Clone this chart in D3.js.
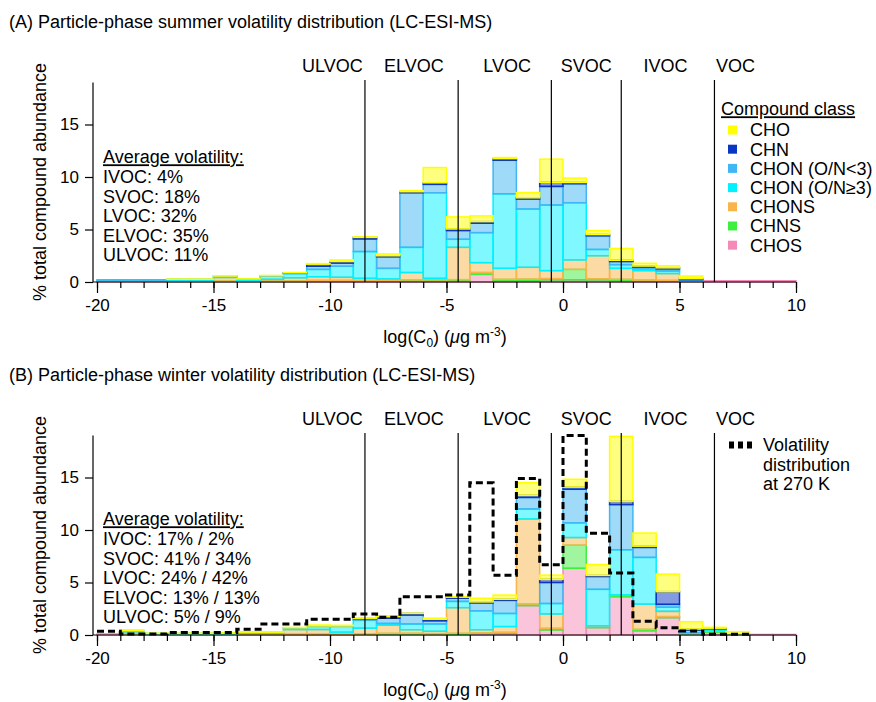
<!DOCTYPE html>
<html>
<head>
<meta charset="utf-8">
<script src="https://cdn.jsdelivr.net/npm/d3@7"></script>
<style>
  body { margin: 0; background: #fff; }
  svg { display: block; font-family: "Liberation Sans", Arial, Helvetica, sans-serif; }
</style>
</head>
<body>
<svg id="chart" width="876" height="702"></svg>
<script>
// bin left edges, log(C0) in µg m-3 (bins are 1 decade wide)
const binStart = [-20, -19, -18, -17, -16, -15, -14, -13, -12, -11, -10, -9, -8, -7, -6,
                  -5, -4, -3, -2, -1, 0, 1, 2, 3, 4, 5, 6, 7, 8, 9];

const classKeys = ["CHOS", "CHNS", "CHONS", "CHON (O/N≥3)", "CHON (O/N<3)", "CHN", "CHO"];
const legendOrder = ["CHO", "CHN", "CHON (O/N<3)", "CHON (O/N≥3)", "CHONS", "CHNS", "CHOS"];
const classColor = {
  "CHO": "#ffff00",
  "CHN": "#0a36c4",
  "CHON (O/N<3)": "#40b6f4",
  "CHON (O/N≥3)": "#00f2ff",
  "CHONS": "#f8b54a",
  "CHNS": "#40ee40",
  "CHOS": "#f58ab8"
};

// (A) summer, % of total compound abundance per bin
const summerCHOS   = [0.05,0.05,0.05,0.05,0.05,0.05,0.05,0.05,0.05,0.1,0.1,0.1,0.1,0.15,0.12,0.12,0.73,0.15,0.15,0.2,0.2,0.2,0.15,0.12,0.1,0.05,0.12,0.12,0.12,0.12];
const summerCHNS   = [0,0,0,0.02,0.02,0.03,0.02,0.05,0.05,0.05,0.05,0.05,0.05,0.05,0.08,0.1,0.17,0.1,0.12,0.12,1.0,0.1,0.1,0.06,0.05,0.02,0,0,0,0];
const summerCHONS  = [0.03,0.03,0.03,0.05,0.05,0.35,0.08,0.15,0.3,0.35,0.3,0.2,0.15,0.7,0.15,3.08,0.94,1.05,1.13,0.76,0.9,2.2,1.05,0.9,0.65,0.05,0,0,0,0];
const summerCHONhi = [0.1,0.1,0.1,0.12,0.12,0.12,0.12,0.3,0.4,0.7,1.05,2.55,1.0,2.4,8.15,0.77,2.86,7.1,5.55,6.25,5.45,0.6,0.35,0.17,0.25,0.05,0,0,0,0];
const summerCHONlo = [0.02,0.02,0.02,0.02,0.02,0.02,0.02,0.05,0.05,0.3,0.3,1.2,1.1,5.2,0.8,0.83,0.9,3.2,0.95,1.77,1.81,1.3,0.3,0.17,0.2,0.05,0,0,0,0];
const summerCHN    = [0,0,0,0,0,0,0,0,0.02,0.2,0.15,0.15,0.1,0.1,0.15,0.15,0.15,0.15,0.12,0.4,0.12,0.12,0.12,0.1,0.1,0.1,0,0,0,0];
const summerCHO    = [0,0,0,0.02,0.02,0.03,0.01,0.02,0.03,0.05,0.15,0.05,0.17,0.1,1.45,1.15,0.55,0.1,0.5,2.2,0.42,0.38,1.13,0.26,0.2,0.25,0,0,0,0];

// (B) winter
const winterCHOS   = [0.1,0.05,0.05,0.05,0.05,0.05,0.05,0.05,0.05,0.05,0.05,0.05,0.1,0.1,0.05,0.05,0.15,0.15,2.8,0.48,6.35,0.7,3.65,0.4,1.65,0.05,0.25,0.1,0.05,0.05];
const winterCHNS   = [0,0.05,0,0,0,0,0.02,0.02,0.02,0.02,0.02,0.05,0.05,0.05,0.05,0.1,0.05,0.1,0.15,0.15,2.2,0.12,0.15,0.14,0.1,0.02,0.1,0,0,0];
const winterCHONS  = [0,0.2,0.05,0.05,0.05,0.05,0.08,0.08,0.45,0.45,0.2,0.55,0.8,0.35,0.25,2.45,0.3,0.55,8.1,1.37,0.73,0.05,0.02,2.4,0.5,0.05,0.05,0,0,0];
const winterCHONhi = [0,0.1,0.05,0.05,0.05,0.08,0.1,0.1,0.15,0.3,0.55,0.75,0.15,0.55,0.7,0.6,1.8,1.25,0.95,1.0,1.4,3.48,4.3,4.45,0.4,0.1,0.15,0.02,0,0];
const winterCHONlo = [0,0.02,0,0,0,0,0.02,0.02,0.02,0.05,0.05,0.15,0.5,0.85,0.3,0.3,0.75,1.25,1.1,2.0,3.2,1.22,4.3,0.95,0.27,0.25,0.05,0,0,0];
const winterCHN    = [0,0,0,0,0,0,0,0,0,0,0,0.05,0.15,0.15,0.15,0.1,0.1,0.1,0.2,0.3,0.2,0.1,0.3,0.12,1.21,0.1,0.05,0,0,0];
const winterCHO    = [0,0.08,0.02,0.02,0.02,0.02,0.03,0.03,0.03,0.08,0.05,0.05,0.05,0.02,0.1,0.05,0.35,0.4,1.2,0.4,0.75,1.05,6.2,1.25,1.67,0.7,0.08,0.2,0,0];

// winter volatility distribution at 270 K (bins -20 .. 7, ends at 8)
const dist270 = [0.35,0.1,0.1,0.25,0.25,0.25,0.55,1.05,1.05,1.5,1.5,2.0,1.7,3.65,3.65,3.8,14.5,5.7,14.9,6.7,19.0,9.7,5.9,1.3,0.7,0.38,0.08,0.08];

// volatility class boundaries and labels
const classBounds = [-8.5, -4.5, -0.5, 2.5, 6.5];
const volLabels = ["ULVOC", "ELVOC", "LVOC", "SVOC", "IVOC", "VOC"];
const volLabelPos = [-9.9, -6.4, -2.4, 1.0, 4.4, 7.4];

const summerAvg = ["IVOC: 4%", "SVOC: 18%", "LVOC: 32%", "ELVOC: 35%", "ULVOC: 11%"];
const winterAvg = ["IVOC: 17% / 2%", "SVOC: 41% / 34%", "LVOC: 24% / 42%", "ELVOC: 13% / 13%", "ULVOC: 5% / 9%"];

const xMajorTicks = [-20, -15, -10, -5, 0, 5, 10];
const yTicks = [0, 5, 10, 15];

const svg = d3.select("#chart");
const x = d3.scaleLinear().domain([-20, 10]).range([97, 796]);
const axisLeftX = 93;
const fontMain = "18px";
const fontTick = "17px";

function tableOf(series) {
  return binStart.map((b, i) => {
    const row = { bin: b };
    classKeys.forEach((k, j) => { row[k] = series[j][i]; });
    return row;
  });
}

function drawPanel(opt) {
  const base = opt.base;
  const y = d3.scaleLinear().domain([0, 19]).range([base, base - 19 * 10.5]);
  const g = svg.append("g");

  g.append("text")
    .attr("x", 9).attr("y", base - 260).attr("dy", "0.35em")
    .style("font-size", fontMain)
    .text(opt.title);

  // stacked bars
  const stacked = d3.stack().keys(classKeys)(opt.rows);
  const layers = g.append("g").selectAll("g")
    .data(stacked)
    .enter().append("g")
    .attr("stroke", d => classColor[d.key])
    .attr("fill", d => classColor[d.key]);

  layers.selectAll("rect")
    .data(d => d.filter(s => s[1] - s[0] > 0))
    .enter().append("rect")
    .attr("x", s => x(s.data.bin))
    .attr("width", s => x(s.data.bin + 1) - x(s.data.bin))
    .attr("y", s => y(s[1]))
    .attr("height", s => y(s[0]) - y(s[1]))
    .attr("fill-opacity", 0.5)
    .attr("stroke-width", 1.5);

  // class boundary lines
  g.selectAll(".bound")
    .data(classBounds)
    .enter().append("line")
    .attr("x1", d => x(d)).attr("x2", d => x(d))
    .attr("y1", base - 202).attr("y2", base)
    .attr("stroke", "#000").attr("stroke-width", 1.2);

  g.selectAll(".vlab")
    .data(volLabels)
    .enter().append("text")
    .attr("x", (d, i) => x(volLabelPos[i]))
    .attr("y", base - 216).attr("dy", "0.35em")
    .attr("text-anchor", "middle")
    .style("font-size", fontMain)
    .text(d => d);

  if (opt.dist) {
    const pts = opt.dist.map((v, i) => [binStart[i], v]);
    pts.push([binStart[opt.dist.length], opt.dist[opt.dist.length - 1]]);
    const line = d3.line().x(d => x(d[0])).y(d => y(d[1])).curve(d3.curveStepAfter);
    g.append("path")
      .attr("d", line(pts))
      .attr("fill", "none")
      .attr("stroke", "#000")
      .attr("stroke-width", 3)
      .attr("stroke-dasharray", "7,4");
  }

  // axes
  g.append("line")
    .attr("x1", axisLeftX).attr("x2", x(10))
    .attr("y1", base).attr("y2", base)
    .attr("stroke", "#000").attr("stroke-width", 1.2);
  g.append("line")
    .attr("x1", axisLeftX).attr("x2", axisLeftX)
    .attr("y1", y(19)).attr("y2", base)
    .attr("stroke", "#000").attr("stroke-width", 1.2);

  const minor = g.append("g")
    .attr("transform", "translate(0," + base + ")")
    .call(d3.axisBottom(x).tickValues(binStart.concat([10])).tickSize(6).tickFormat(""));
  minor.select(".domain").remove();

  const major = g.append("g")
    .attr("transform", "translate(0," + base + ")")
    .call(d3.axisBottom(x).tickValues(xMajorTicks).tickSize(11).tickPadding(6).tickFormat(d => String(d)));
  major.select(".domain").remove();
  major.selectAll("text").style("font-size", fontTick).attr("fill", "#000")
    .style("font-family", '"Liberation Sans", Arial, Helvetica, sans-serif');

  const yAx = g.append("g")
    .attr("transform", "translate(" + axisLeftX + ",0)")
    .call(d3.axisLeft(y).tickValues(yTicks).tickSize(8).tickPadding(6).tickFormat(d => String(d)));
  yAx.select(".domain").remove();
  yAx.selectAll("text").style("font-size", fontTick).attr("fill", "#000")
    .style("font-family", '"Liberation Sans", Arial, Helvetica, sans-serif');
  g.selectAll(".tick line").attr("stroke", "#000").attr("stroke-width", 1.2);

  // axis titles
  g.append("text")
    .attr("transform", "translate(40," + (base - 100) + ") rotate(-90)")
    .attr("text-anchor", "middle").attr("dy", "0.35em")
    .style("font-size", fontMain)
    .text("% total compound abundance");

  const xt = g.append("text")
    .attr("x", 445).attr("y", base + 55).attr("dy", "0.35em")
    .attr("text-anchor", "middle")
    .style("font-size", fontMain);
  xt.append("tspan").text("log(C");
  xt.append("tspan").attr("dy", 4).style("font-size", "12px").text("0");
  xt.append("tspan").attr("dy", -4).text(") (");
  xt.append("tspan").style("font-style", "italic").text("\u03bc");
  xt.append("tspan").text("g m");
  xt.append("tspan").attr("dy", -7).style("font-size", "12px").text("-3");
  xt.append("tspan").attr("dy", 7).text(")");

  // average volatility block
  const at = g.append("g").style("font-size", fontMain);
  at.append("text")
    .attr("x", 103).attr("y", base + opt.avgTop).attr("dy", "0.35em")
    .style("text-decoration", "underline")
    .text("Average volatility:");
  at.selectAll(".avg")
    .data(opt.avg)
    .enter().append("text")
    .attr("x", 103)
    .attr("y", (d, i) => base + opt.avgTop + (i + 1) * 19.6)
    .attr("dy", "0.35em")
    .text(d => d);

  return g;
}

const gA = drawPanel({
  base: 282,
  title: "(A) Particle-phase summer volatility distribution (LC-ESI-MS)",
  rows: tableOf([summerCHOS, summerCHNS, summerCHONS, summerCHONhi, summerCHONlo, summerCHN, summerCHO]),
  avg: summerAvg,
  avgTop: -125
});

const gB = drawPanel({
  base: 635,
  title: "(B) Particle-phase winter volatility distribution (LC-ESI-MS)",
  rows: tableOf([winterCHOS, winterCHNS, winterCHONS, winterCHONhi, winterCHONlo, winterCHN, winterCHO]),
  avg: winterAvg,
  avgTop: -116,
  dist: dist270
});

// legend (A)
const legA = svg.append("g").style("font-size", fontMain);
legA.append("text")
  .attr("x", 721).attr("y", 109).attr("dy", "0.35em")
  .style("text-decoration", "underline")
  .text("Compound class");
legendOrder.forEach((k, i) => {
  const yy = 130 + i * 19.2;
  legA.append("rect")
    .attr("x", 728).attr("y", yy - 4.5)
    .attr("width", 9).attr("height", 9)
    .attr("fill", classColor[k]);
  legA.append("text")
    .attr("x", 750).attr("y", yy).attr("dy", "0.35em")
    .text(k);
});

// legend (B)
const legB = svg.append("g").style("font-size", fontMain);
legB.append("line")
  .attr("x1", 729).attr("x2", 756)
  .attr("y1", 445).attr("y2", 445)
  .attr("stroke", "#000").attr("stroke-width", 7)
  .attr("stroke-dasharray", "5,4");
["Volatility", "distribution", "at 270 K"].forEach((t, i) => {
  legB.append("text")
    .attr("x", 763).attr("y", 445 + i * 19.3).attr("dy", "0.35em")
    .text(t);
});
</script>
</body>
</html>
